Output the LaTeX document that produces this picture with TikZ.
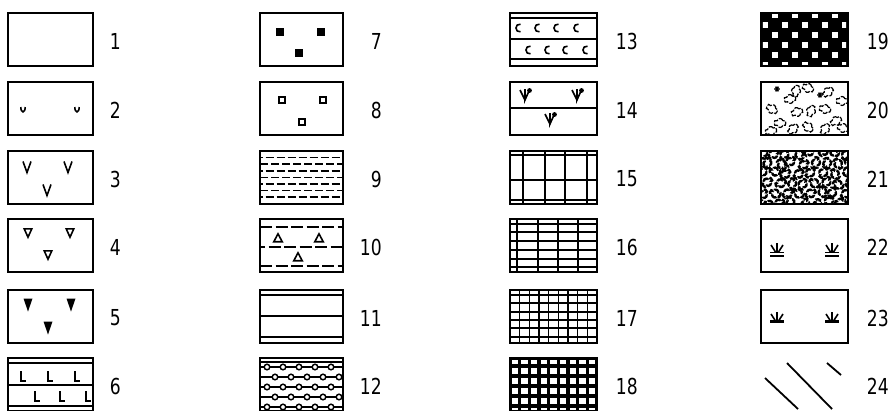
\documentclass[tikz,border=0pt]{standalone}
\usepackage{fontspec}
\newfontfamily\labfont{DejaVu Sans}[FakeStretch=0.78]
\usetikzlibrary{shapes.symbols}
\begin{document}
\begin{tikzpicture}[x=1pt,y=-1pt,
 frame/.style={line width=2.3pt},
 sym/.style={line width=1.6pt},
 hair/.style={line width=1.45pt},
 lab/.style={anchor=east,inner sep=0pt,font=\labfont\fontsize{22}{24}\selectfont},
 blob/.style={cloud,cloud puffs=6,draw,inner sep=0pt,minimum width=12pt,minimum height=9pt,line width=1.2pt,dash pattern=on 5pt off 1.4pt},
 uarc/.pic={\draw[sym] (-2.2,-3) .. controls (-2.2,3.5) and (2.2,3.5) .. (2.2,-3);},
 vlet/.pic={\draw[sym] (-4,-5.5) -- (0,5.5) -- (4,-5.5);},
 tridown/.pic={\draw[sym] (-3.8,-4.2) -- (3.8,-4.2) -- (0,4.2) -- cycle;},
 tridownfill/.pic={\fill (-4.5,-6.5) -- (4.5,-6.5) -- (0,6.5) -- cycle;},
 llet/.pic={\draw[sym] (-2,-5) -- (-2,5) -- (3,5);},
 sqfill/.pic={\fill (-4.2,-4.2) rectangle (4.2,4.2);},
 sqopen/.pic={\draw[sym] (-3.2,-3.2) rectangle (3.2,3.2);},
 triup/.pic={\draw[sym] (-4.2,3.7) -- (4.2,3.7) -- (0,-4.2) -- cycle;},
 clet/.pic={\draw[sym] (2.5,-3.8) .. controls (-3.5,-4.8) and (-3.5,4.8) .. (2.5,3.8);},
 psi/.pic={\draw[sym] (-5,-5) -- (0,5) (0,-6) -- (0,5) -- (4,-4); \fill (4.5,-4.5) circle (2.4);},
 startick/.pic={\draw[hair] (-2.8,0) -- (2.8,0) (-1.4,-2.4) -- (1.4,2.4) (-1.4,2.4) -- (1.4,-2.4);},
 marshA/.pic={\draw[sym] (0,-9) -- (0,0) (-6,-7) -- (-1.5,0) (6,-7) -- (1.5,0);
   \draw[line width=1.7pt] (-7,0.5) -- (7,0.5) (-7,4) -- (7,4);},
 marshB/.pic={\draw[sym] (0,-9) -- (0,0) (-6,-7) -- (-1.5,0) (6,-7) -- (1.5,0);
   \draw[line width=2.5pt] (-7,0.5) -- (7,0.5);},
]
\useasboundingbox (0,0) rectangle (893,410);
\fill[white] (0,0) rectangle (893,410);

% ---------- column 1 ----------
\pic at (23,110) {uarc}; \pic at (77,110) {uarc};
\pic at (27,167) {vlet}; \pic at (68,167) {vlet}; \pic at (47,190) {vlet};
\pic at (28,233) {tridown}; \pic at (70,233) {tridown}; \pic at (48,255) {tridown};
\pic at (28,305) {tridownfill}; \pic at (71,305) {tridownfill}; \pic at (48,328) {tridownfill};
\draw[hair] (8,363) -- (93,363) (8,385) -- (93,385) (8,406) -- (93,406);
\pic at (23,376) {llet}; \pic at (50,376) {llet}; \pic at (77,376) {llet};
\pic at (37,396) {llet}; \pic at (62,396) {llet}; \pic at (88,396) {llet};
\foreach \t in {13,82,151,219,290,358} \draw[frame] (8,\t) rectangle (93,\t+53);

% ---------- column 2 ----------
\pic at (280,32) {sqfill}; \pic at (321,32) {sqfill}; \pic at (299,53) {sqfill};
\pic at (282,100) {sqopen}; \pic at (323,100) {sqopen}; \pic at (302,122) {sqopen};
\foreach \k in {1,...,7} {
  \pgfmathsetmacro\yy{151+6.6*\k}
  \pgfmathsetmacro\ph{mod(\k,2)*5.5}
  \draw[hair,dash pattern=on 8pt off 3pt,dash phase=\ph pt] (260,\yy) -- (343,\yy);
}
\draw[hair,dash pattern=on 12pt off 3.5pt] (260,227) -- (343,227) (260,266) -- (343,266);
\draw[hair,dash pattern=on 12pt off 3.5pt,dash phase=7pt] (260,247) -- (343,247);
\pic at (278,238) {triup}; \pic at (319,238) {triup}; \pic at (298,257) {triup};
\draw[hair] (260,295) -- (343,295) (260,316) -- (343,316) (260,337) -- (343,337);
\begin{scope}
 \clip (260,358) rectangle (343,411);
 \draw[hair] (260,362) -- (343,362);
 \foreach \r in {0,...,4} {
   \pgfmathsetmacro\yy{367+10*\r}
   \draw[hair] (260,\yy) -- (343,\yy);
   \pgfmathsetmacro\off{mod(\r,2)*8}
   \foreach \c in {0,...,5} {
     \pgfmathsetmacro\xx{267+\off+16*\c}
     \draw[hair,fill=white] (\xx,\yy) circle (2.8);
   }
 }
\end{scope}
\foreach \t in {13,82,151,219,290,358} \draw[frame] (260,\t) rectangle (343,\t+53);

% ---------- column 3 ----------
\draw[hair] (510,18) -- (597,18) (510,39) -- (597,39) (510,59) -- (597,59);
\foreach \xx in {518,537,556,576} \pic at (\xx,28) {clet};
\foreach \xx in {528,547,565,585} \pic at (\xx,50) {clet};
\draw[hair] (510,108) -- (597,108);
\pic at (525,95) {psi}; \pic at (577,95) {psi}; \pic at (550,119) {psi};
\draw[hair] (523,151) -- (523,204) (545,151) -- (545,204) (565,151) -- (565,204) (587,151) -- (587,204);
\draw[hair] (510,155) -- (597,155) (510,180) -- (597,180) (510,200) -- (597,200);
\foreach \xx in {517,538,558,578} \draw[hair] (\xx,219) -- (\xx,272);
\foreach \yy in {224,232,241,250,259,267} \draw[hair] (510,\yy) -- (597,\yy);
\foreach \k in {1,...,8} \draw[hair] (510+9.67*\k,290) -- (510+9.67*\k,343);
\foreach \yy in {295,303,312,320,328,337} \draw[hair] (510,\yy) -- (597,\yy);
\fill (510,358) rectangle (597,411);
\foreach \k in {0,...,8} {
  \foreach \ya/\yb in {358/366,366/376,376/386,386/396,396/406,406/416} {
    \fill[white] (510+9.67*\k+1.7,\ya+1.7) rectangle (510+9.67*\k+9.67-1.7,\yb-1.7);
  }
}
\foreach \t in {13,82,151,219,290,358} \draw[frame] (510,\t) rectangle (597,\t+53);

% ---------- column 4 ----------
\fill (761,13) rectangle (848,66);
\begin{scope}
 \clip (762.8,14.8) rectangle (846.2,64.2);
 \foreach \yy in {15,35,55} \foreach \xx in {775,795,815,835} \fill[white] (\xx-3.3,\yy-3.3) rectangle ++(6.6,6.6);
 \foreach \yy in {25,45,65} \foreach \xx in {765,785,805,825,845} \fill[white] (\xx-3.3,\yy-3.3) rectangle ++(6.6,6.6);
\end{scope}
\begin{scope}
 \clip (761,82) rectangle (848,135);
 \foreach \xx/\yy/\rr [count=\n] in {790/99/10,808/88/-20,828/92/40,842/101/0,772/109/-30,797/112/20,811/111/70,825/109/-10,836/121/30,780/123/0,808/127/-40,771/131/15,825/129/60,843/128/-15,793/129/45,796/91/80} {
   \node[blob,rotate=\rr] (c20-\n) at (\xx,\yy) {};
 }
 \pic at (777,89) {startick}; \pic at (820,95) {startick};
\end{scope}
\begin{scope}
 \clip (761,151) rectangle (848,204);
 \pgfmathsetseed{11}
 \foreach \i in {0,...,7} {
   \foreach \j in {0,...,5} {
     \pgfmathsetmacro\xx{762+\i*12+mod(\j,2)*6+rand*2}
     \pgfmathsetmacro\yy{153+\j*10+rand*2}
     \pgfmathsetmacro\rr{rand*180}
     \node[blob,rotate=\rr,line width=2.4pt,minimum width=11pt,minimum height=8pt,dash pattern=on 6pt off 1.5pt] (c21-\i-\j) at (\xx,\yy) {};
   }
 }
\end{scope}
\pic at (777,252) {marshA}; \pic at (832,252) {marshA};
\pic at (777,321) {marshB}; \pic at (832,321) {marshB};
\foreach \t in {13,82,151,219,290} \draw[frame] (761,\t) rectangle (848,\t+53);
\draw[line width=1.8pt] (765,378) -- (798,409) (787,363) -- (832,409) (827,363) -- (841,375);

% ---------- labels ----------
\foreach \n/\x/\y in {1/121/41,2/121/110,3/121/179,4/121/247,5/121/318,6/121/386,
  7/382/41,8/382/110,9/382/179,10/382/247,11/382/318,12/382/386,
  13/638/41,14/638/110,15/638/179,16/638/247,17/638/318,18/638/386,
  19/889/41,20/889/110,21/889/179,22/889/247,23/889/318,24/889/386}
  \node[lab] (l\n) at (\x,\y) {\n};
\end{tikzpicture}
\end{document}
